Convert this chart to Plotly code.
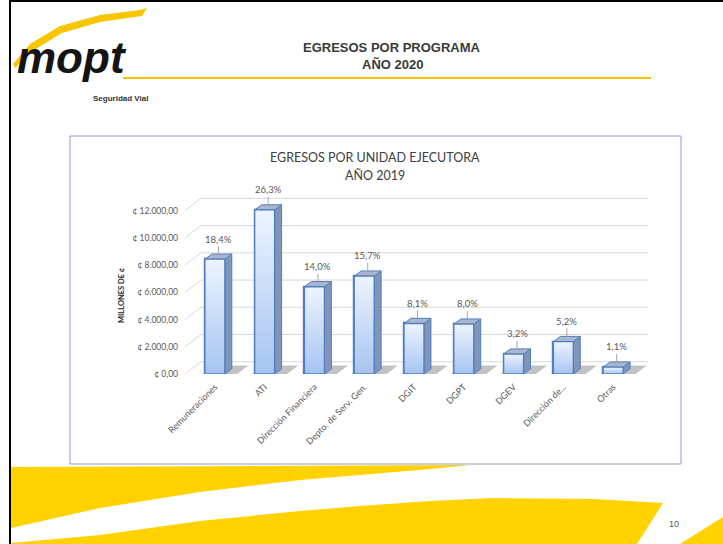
import plotly.graph_objects as go

# ---------------- data ----------------
categories = ["Remuneraciones", "ATI", "Dirección Financiera", "Depto. de Serv. Gen.",
              "DGIT", "DGPT", "DGEV", "Dirección de...", "Otras"]
values = [8430, 12050, 6410, 7190, 3710, 3665, 1465, 2380, 505]   # millones de colones
percents = [18.4, 26.3, 14.0, 15.7, 8.1, 8.0, 3.2, 5.2, 1.1]
y_ticks = [0, 2000, 4000, 6000, 8000, 10000, 12000]

W, H = 723, 544


def X(px):
    return px / W


def Y(py):
    return 1 - py / H


def ppath(points, close=True):
    s = "M " + " L ".join(f"{X(a):.5f},{Y(b):.5f}" for a, b in points)
    return s + (" Z" if close else "")


def money(v):
    s = f"{v:,.2f}"
    s = s.replace(",", "#").replace(".", ",").replace("#", ".")
    return "¢ " + s


# geometry of the pseudo-3D look (in axis units)
HW = 0.2          # half width of bar front
BDX, BDY = 0.14, 380   # bar depth offset
GDX, GDY = 0.32, 900   # floor/grid depth offset
XR = [-0.6, 8.7]
YR = [0, 13000]

LABEL = "#595959"
OUTLINE = "#4F7FC0"
FONT = "Lato, Open Sans, sans-serif"

fig = go.Figure()

# main bars (front faces)
fig.add_trace(go.Bar(
    x=list(range(len(categories))), y=values, width=2 * HW,
    marker=dict(color="#C5D9F6", line=dict(color=OUTLINE, width=1.2)),
    hoverinfo="skip", showlegend=False))

# floor shadows
sx, sy = [], []
for i, v in enumerate(values):
    x0 = i - HW
    sx += [x0 - 0.05, i + HW + 0.25, i + HW + 0.25 + GDX * 0.7, x0 + GDX * 0.6, None]
    sy += [0, 0, GDY * 0.7, GDY * 0.7, None]
fig.add_trace(go.Scatter(x=sx, y=sy, fill="toself", mode="none",
                         fillcolor="rgba(80,80,80,0.35)", hoverinfo="skip", showlegend=False))

# side faces
sx, sy = [], []
for i, v in enumerate(values):
    sx += [i + HW, i + HW + BDX, i + HW + BDX, i + HW, i + HW, None]
    sy += [0, BDY, v + BDY, v, 0, None]
fig.add_trace(go.Scatter(x=sx, y=sy, fill="toself", mode="lines",
                         line=dict(color=OUTLINE, width=1), fillcolor="#8095B8",
                         hoverinfo="skip", showlegend=False))

# top faces
tx, ty = [], []
for i, v in enumerate(values):
    tx += [i - HW, i + HW, i + HW + BDX, i - HW + BDX, i - HW, None]
    ty += [v, v, v + BDY, v + BDY, v, None]
fig.add_trace(go.Scatter(x=tx, y=ty, fill="toself", mode="lines",
                         line=dict(color=OUTLINE, width=1), fillcolor="#A9B6CB",
                         hoverinfo="skip", showlegend=False))

# gradient front faces
for i, v in enumerate(values):
    fig.add_trace(go.Scatter(
        x=[i - HW, i + HW, i + HW, i - HW, i - HW], y=[0, 0, v, v, 0],
        fill="toself", mode="lines", line=dict(color=OUTLINE, width=1.3),
        fillgradient=dict(type="vertical", start=0, stop=v,
                          colorscale=[[0, "#A6C4F1"], [1, "#EEF4FE"]]),
        hoverinfo="skip", showlegend=False))

# percentage labels with leader lines
for i, (v, p) in enumerate(zip(values, percents)):
    fig.add_annotation(x=i + BDX / 2, y=v + BDY, xref="x", yref="y",
                       text=f"{p:.1f}%".replace(".", ","), showarrow=True,
                       arrowhead=0, arrowwidth=1, arrowcolor="#A6A6A6",
                       ax=0, ay=-15, standoff=0,
                       font=dict(family=FONT, size=9.5, color=LABEL))

# 3D gridlines
for v in y_ticks:
    fig.add_shape(type="path", xref="x", yref="y", layer="below",
                  path=f"M {XR[0]},{v} L {XR[0] + GDX},{v + GDY} L {XR[1]},{v + GDY}",
                  line=dict(color="#D9D9D9", width=1))

fig.update_layout(
    width=W, height=H, margin=dict(l=0, r=0, t=0, b=0, autoexpand=False),
    paper_bgcolor="white", plot_bgcolor="rgba(0,0,0,0)",
    showlegend=False, bargap=0,
    xaxis=dict(domain=[X(185), X(648)], range=XR, tickmode="array", automargin=False,
               tickvals=list(range(len(categories))), ticktext=categories,
               tickangle=-45, showgrid=False, zeroline=False, showline=False,
               ticks="", ticklabelstandoff=5,
               tickfont=dict(family=FONT, size=9, color=LABEL)),
    yaxis=dict(domain=[Y(374), Y(197)], range=YR, tickmode="array", automargin=False,
               tickvals=y_ticks, ticktext=[money(v) for v in y_ticks],
               showgrid=False, zeroline=False, showline=False, ticks="",
               ticklabelstandoff=6,
               tickfont=dict(family=FONT, size=8.5, color=LABEL)),
)

# ---------- slide decoration ----------
YEL = "#FFD200"
shapes = [
    # chart frame
    dict(type="rect", xref="paper", yref="paper", x0=X(70), x1=X(681), y0=Y(464), y1=Y(136),
         line=dict(color="#8E9CCB", width=1), layer="below"),
    # title underline
    dict(type="line", xref="paper", yref="paper", x0=X(123), x1=X(651), y0=Y(78), y1=Y(78),
         line=dict(color="#F5C400", width=2)),
    # upper yellow band
    dict(type="path", xref="paper", yref="paper", fillcolor=YEL, line=dict(width=0),
         path=ppath([(11, 467), (470, 465), (430, 469), (360, 475), (300, 480), (200, 492),
                     (100, 508), (11, 528)])),
    # lower yellow band
    dict(type="path", xref="paper", yref="paper", fillcolor=YEL, line=dict(width=0),
         path=ppath([(11, 544), (11, 543), (100, 535), (200, 521), (300, 511), (360, 506),
                     (430, 501), (493, 498), (593, 499), (663, 503), (637, 544)])),
    # bottom-right corner piece
    dict(type="path", xref="paper", yref="paper", fillcolor=YEL, line=dict(width=0),
         path=ppath([(680, 544), (723, 517), (723, 544)])),
    # logo swoosh
    dict(type="path", xref="paper", yref="paper", fillcolor="#F7C600", line=dict(width=0),
         path=ppath([(13, 64), (30, 44), (60, 26), (100, 15), (140, 10), (147, 8), (142, 16),
                     (100, 22), (62, 33), (34, 50), (15, 68)])),
    # slide border (left and top)
    dict(type="line", xref="paper", yref="paper", x0=X(10), x1=X(10), y0=0, y1=1,
         line=dict(color="black", width=2)),
    dict(type="line", xref="paper", yref="paper", x0=X(10), x1=1, y0=Y(1), y1=Y(1),
         line=dict(color="black", width=2)),
]
for s in shapes:
    fig.add_shape(**s)

ann = [
    dict(x=X(392), y=Y(47), text="<b>EGRESOS POR PROGRAMA</b>",
         font=dict(family="Liberation Sans, Arial", size=13, color="#3A3A3A")),
    dict(x=X(392), y=Y(64), text="<b>AÑO 2020</b>",
         font=dict(family="Liberation Sans, Arial", size=13, color="#3A3A3A")),
    dict(x=X(375), y=Y(157), text="EGRESOS POR UNIDAD EJECUTORA",
         font=dict(family=FONT, size=12.5, color="#404040")),
    dict(x=X(375), y=Y(176), text="AÑO 2019",
         font=dict(family=FONT, size=12.5, color="#404040")),
    dict(x=X(121), y=Y(295), text="<b>MILLONES DE ¢</b>", textangle=-90,
         font=dict(family=FONT, size=7.5, color="#262626")),
    dict(x=X(72), y=Y(58), text="<b><i>mopt</i></b>",
         font=dict(family="Liberation Sans Narrow, Arial Narrow, Liberation Sans", size=44, color="#141414")),
    dict(x=X(121), y=Y(98), text="<b>Seguridad Vial</b>",
         font=dict(family="Liberation Sans Narrow, Arial Narrow, Liberation Sans", size=8, color="#333333")),
    dict(x=X(674), y=Y(524), text="10",
         font=dict(family="Liberation Sans, Arial", size=9, color="#595959")),
]
for a in ann:
    fig.add_annotation(xref="paper", yref="paper", showarrow=False,
                       xanchor="center", yanchor="middle", **a)

fig.write_html("out.html")
